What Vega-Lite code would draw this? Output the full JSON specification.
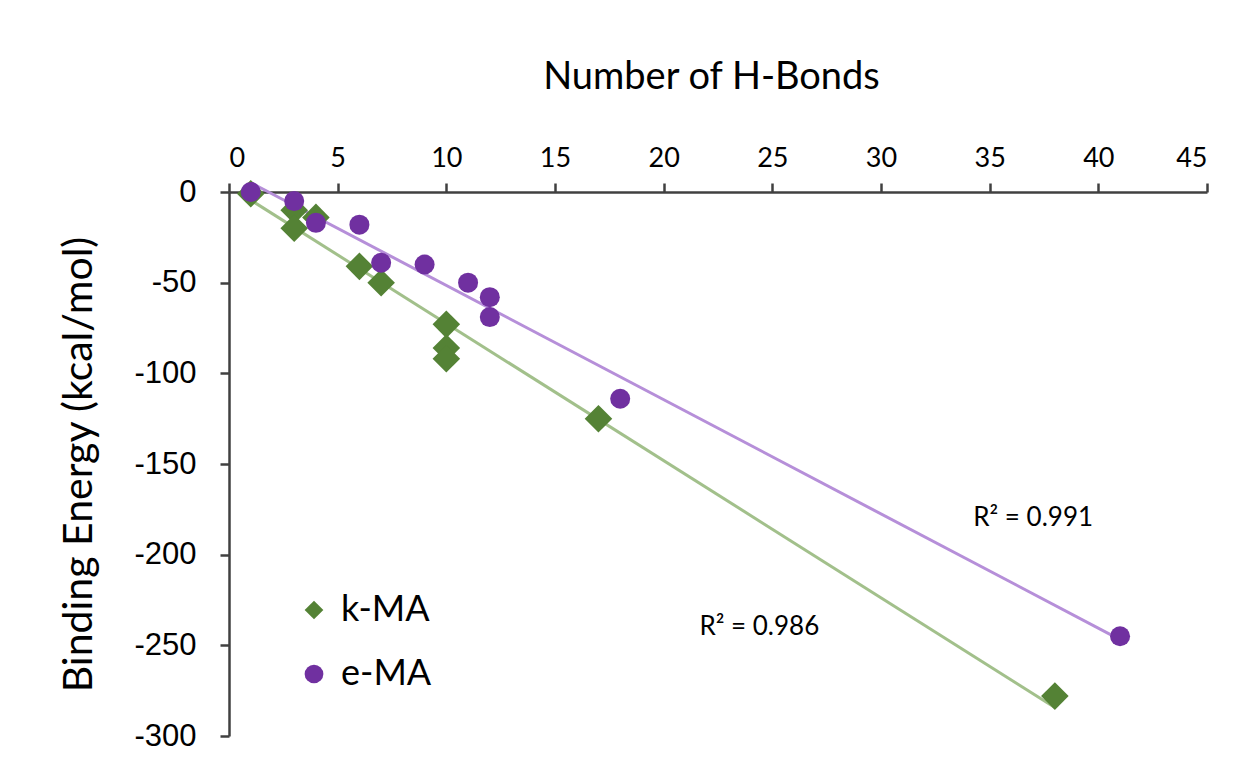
{
  "$schema": "https://vega.github.io/schema/vega-lite/v6.json",
  "width": 978,
  "height": 544,
  "autosize": {"type": "none"},
  "padding": {"left": 229, "top": 192, "right": 37, "bottom": 31},
  "background": "white",
  "config": {
    "view": {"stroke": null},
    "axis": {
      "grid": false,
      "domainColor": "#404040",
      "domainWidth": 2.5,
      "tickColor": "#404040",
      "tickWidth": 2.5,
      "tickSize": 9,
      "labelColor": "#000000",
      "titleColor": "#000000",
      "titleFontWeight": "normal"
    }
  },
  "datasets": {
    "points": [
      {"series": "k-MA", "hbonds": 1, "energy": -1},
      {"series": "k-MA", "hbonds": 3, "energy": -10},
      {"series": "k-MA", "hbonds": 3, "energy": -20},
      {"series": "k-MA", "hbonds": 4, "energy": -14},
      {"series": "k-MA", "hbonds": 6, "energy": -41},
      {"series": "k-MA", "hbonds": 7, "energy": -50},
      {"series": "k-MA", "hbonds": 10, "energy": -73},
      {"series": "k-MA", "hbonds": 10, "energy": -86},
      {"series": "k-MA", "hbonds": 10, "energy": -92},
      {"series": "k-MA", "hbonds": 17, "energy": -125},
      {"series": "k-MA", "hbonds": 38, "energy": -278},
      {"series": "e-MA", "hbonds": 1, "energy": 0},
      {"series": "e-MA", "hbonds": 3, "energy": -5},
      {"series": "e-MA", "hbonds": 4, "energy": -17},
      {"series": "e-MA", "hbonds": 6, "energy": -18},
      {"series": "e-MA", "hbonds": 7, "energy": -39},
      {"series": "e-MA", "hbonds": 9, "energy": -40},
      {"series": "e-MA", "hbonds": 11, "energy": -50},
      {"series": "e-MA", "hbonds": 12, "energy": -58},
      {"series": "e-MA", "hbonds": 12, "energy": -69},
      {"series": "e-MA", "hbonds": 18, "energy": -114},
      {"series": "e-MA", "hbonds": 41, "energy": -245}
    ],
    "labels": [
      {"hbonds": 37, "energy": -180, "label": "R² = 0.991"},
      {"hbonds": 24.4, "energy": -240, "label": "R² = 0.986"}
    ]
  },
  "encoding": {
    "x": {
      "field": "hbonds", "type": "quantitative",
      "scale": {"domain": [0, 45], "nice": false, "zero": false},
      "axis": {
        "orient": "top",
        "values": [0, 5, 10, 15, 20, 25, 30, 35, 40, 45],
        "title": "Number of H-Bonds",
        "titleX": 482,
        "labelFont": "Lato", "labelFontSize": 27, "labelPadding": 11,
        "titleFont": "Lato", "titleFontSize": 38, "titlePadding": 48
      }
    },
    "y": {
      "field": "energy", "type": "quantitative",
      "scale": {"domain": [-300, 0], "nice": false},
      "axis": {
        "values": [-300, -250, -200, -150, -100, -50, 0],
        "labelExpr": "replace(datum.label, '−', '-')",
        "title": "Binding Energy (kcal/mol)",
        "labelFont": "Liberation Sans", "labelFontSize": 31, "labelPadding": 24,
        "titleFont": "Lato", "titleFontSize": 41, "titlePadding": 33
      }
    }
  },
  "layer": [
    {
      "data": {"name": "points"},
      "transform": [
        {"filter": "datum.series === 'k-MA'"},
        {"regression": "energy", "on": "hbonds"}
      ],
      "mark": {"type": "line", "strokeWidth": 3, "color": "#a2c08b"}
    },
    {
      "data": {"name": "points"},
      "transform": [
        {"filter": "datum.series === 'e-MA'"},
        {"regression": "energy", "on": "hbonds"}
      ],
      "mark": {"type": "line", "strokeWidth": 3, "color": "#b68fd9"}
    },
    {
      "data": {"name": "points"},
      "transform": [{"filter": "datum.series === 'k-MA'"}],
      "mark": {"type": "point", "filled": true, "opacity": 1, "strokeWidth": 0, "size": 760},
      "encoding": {
        "color": {
          "field": "series", "type": "nominal",
          "scale": {"domain": ["k-MA", "e-MA"], "range": ["#548235", "#7030A0"]},
          "legend": {
            "title": null,
            "orient": "none",
            "legendX": 67,
            "legendY": 400,
            "labelFont": "Lato",
            "labelFontSize": 36,
            "labelColor": "#000000",
            "labelOffset": 9,
            "symbolSize": 350,
            "symbolStrokeWidth": 0,
            "rowPadding": 28
          }
        },
        "shape": {
          "field": "series", "type": "nominal",
          "scale": {"domain": ["k-MA", "e-MA"], "range": ["diamond", "circle"]}
        }
      }
    },
    {
      "data": {"name": "points"},
      "transform": [{"filter": "datum.series === 'e-MA'"}],
      "mark": {"type": "point", "filled": true, "opacity": 1, "strokeWidth": 0, "size": 400},
      "encoding": {
        "color": {"field": "series", "type": "nominal"},
        "shape": {"field": "series", "type": "nominal"}
      }
    },
    {
      "data": {"name": "labels"},
      "mark": {"type": "text", "font": "Lato", "fontSize": 26, "color": "#000000", "align": "center", "baseline": "middle"},
      "encoding": {
        "text": {"field": "label", "type": "nominal"}
      }
    }
  ]
}
